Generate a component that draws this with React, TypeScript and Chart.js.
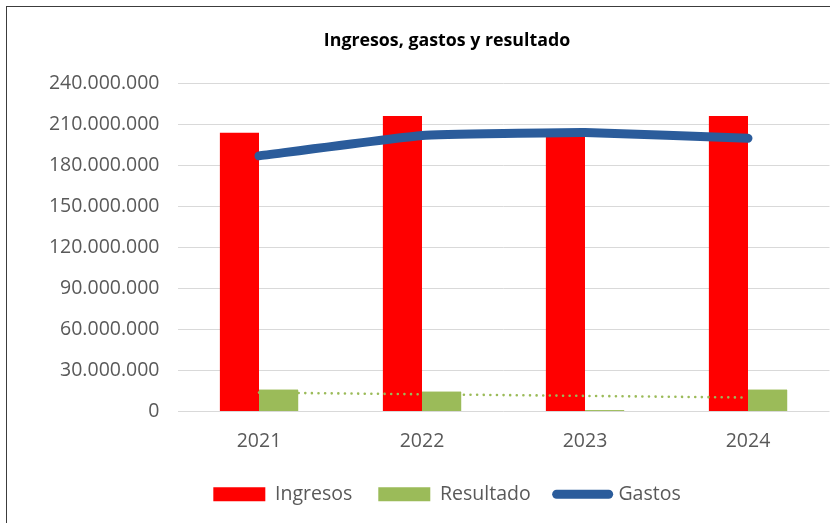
import React, { useEffect, useRef } from 'react';
import { Chart, registerables } from 'chart.js';

Chart.register(...registerables);

const categories = ['2021', '2022', '2023', '2024'];
const ingresos = [203.6e6, 215.9e6, 205.0e6, 215.9e6];
const resultado = [15.9e6, 14.4e6, 1.0e6, 15.9e6];
const gastos = [186.8e6, 201.7e6, 203.8e6, 199.7e6];
const tendenciaResultado = [13.8e6, 12.6e6, 11.4e6, 10.2e6];
const yMin = 0;
const yMax = 240e6;
const yStep = 30e6;
const titleText = 'Ingresos, gastos y resultado';

const fmt = (v: number) =>
  String(Math.round(v)).replace(/\B(?=(\d{3})+(?!\d))/g, '.');

const FONT = "'Open Sans', 'DejaVu Sans', sans-serif";
const TEXT = '#595959';

const layerPlugin = {
  id: 'layerResultado',
  afterLayout(chart: any) {
    // let the y tick labels extend left of the axis box without being clipped
    if (chart.scales.y) chart.scales.y.left = 0;
  },
  afterDatasetDraw(chart: any, args: any) {
    if (args.index === 3) {
      const meta = chart.getDatasetMeta(1);
      if (!meta.hidden) meta.controller.draw();
    }
  },
};

export default function App() {
  const ref = useRef<HTMLCanvasElement | null>(null);

  useEffect(() => {
    if (!ref.current) return;
    const chart = new Chart(ref.current, {
      type: 'bar',
      data: {
        labels: categories,
        datasets: [
          {
            type: 'bar',
            label: 'Ingresos',
            data: ingresos,
            backgroundColor: '#FF0000',
            borderWidth: 0,
            order: 2,
            categoryPercentage: 0.48,
            barPercentage: 1.0,
          },
          {
            type: 'bar',
            label: 'Resultado',
            data: resultado,
            backgroundColor: '#9BBB59',
            borderWidth: 0,
            order: 2,
            categoryPercentage: 0.48,
            barPercentage: 1.0,
          },
          {
            type: 'line',
            label: 'Gastos',
            data: gastos,
            borderColor: '#2B5C9B',
            backgroundColor: '#2B5C9B',
            borderWidth: 9,
            borderCapStyle: 'round',
            borderJoinStyle: 'round',
            pointRadius: 0,
            tension: 0.1,
            order: 0,
          },
          {
            type: 'line',
            label: 'Tendencia',
            data: tendenciaResultado,
            borderColor: '#9BBB59',
            borderWidth: 2.6,
            borderDash: [0.01, 6.6],
            borderCapStyle: 'round',
            pointRadius: 0,
            fill: false,
            order: 1,
          },
        ],
      } as any,
      options: {
        animation: false,
        responsive: false,
        layout: { padding: { left: 64.5, right: 0.5, top: 0, bottom: 9 } },
        plugins: {
          tooltip: { enabled: false },
          title: {
            display: true,
            text: titleText,
            color: '#000000',
            font: { family: FONT, size: 17.8, weight: 'bold' },
            padding: { top: 30.5, bottom: 31.2 },
          },
          legend: {
            position: 'bottom',
            labels: {
              usePointStyle: true,
              pointStyleWidth: 52,
              boxHeight: 14,
              padding: 26,
              color: TEXT,
              font: { family: FONT, size: 19.5 },
              filter: (item: any) => item.datasetIndex !== 3,
              sort: (a: any, b: any) => a.datasetIndex - b.datasetIndex,
              generateLabels: (c: any) => {
                const items = (Chart.defaults.plugins.legend.labels as any).generateLabels(c);
                items.forEach((it: any) => {
                  if (it.datasetIndex === 2) {
                    it.pointStyle = 'line';
                    it.lineWidth = 9;
                    it.lineCap = 'round';
                    it.strokeStyle = '#2B5C9B';
                  } else {
                    it.pointStyle = 'rect';
                    it.lineWidth = 0;
                  }
                });
                return items;
              },
            },
          },
        },
        scales: {
          x: {
            grid: { display: false, drawTicks: false },
            border: { display: false },
            ticks: { color: TEXT, font: { family: FONT, size: 19.5 }, padding: 18 },
            afterFit: (s: any) => {
              s.height = 47;
            },
          },
          y: {
            min: yMin,
            max: yMax,
            grid: { color: '#D9D9D9', lineWidth: 1, drawTicks: false },
            border: { display: false },
            ticks: {
              stepSize: yStep,
              color: TEXT,
              font: { family: FONT, size: 19.5 },
              padding: 18,
              callback: (v: any) => fmt(Number(v)),
            },
            afterFit: (s: any) => {
              s.width = 113;
            },
          },
        },
      } as any,
      plugins: [layerPlugin],
    });
    return () => chart.destroy();
  }, []);

  return (
    <div
      style={{
        position: 'fixed',
        left: 0,
        top: 0,
        width: 830,
        height: 523,
        background: '#ffffff',
        overflow: 'hidden',
      }}
    >
      <canvas ref={ref} width={830} height={523} style={{ display: 'block' }} />
      <div
        style={{
          position: 'absolute',
          left: 6,
          top: 6,
          width: 900,
          height: 600,
          borderLeft: '1.5px solid #3c3c3c',
          borderTop: '1.5px solid #3c3c3c',
          pointerEvents: 'none',
        }}
      />
    </div>
  );
}
